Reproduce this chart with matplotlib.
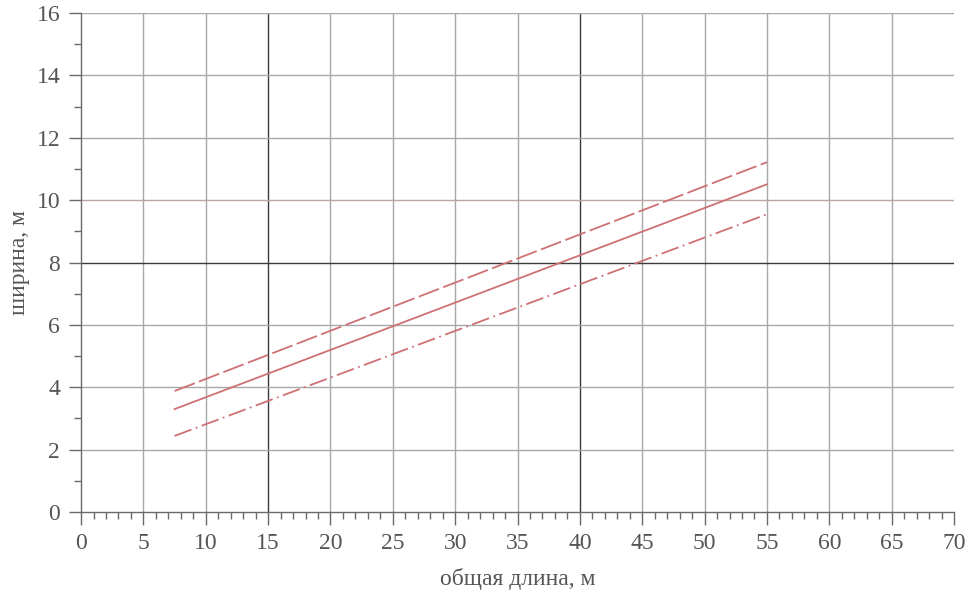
import matplotlib.pyplot as plt
from matplotlib.ticker import MultipleLocator

# Data
length = [7.5, 55]
width_mid = [3.30, 10.51]
width_upper = [3.88, 11.22]
width_lower = [2.44, 9.55]

x_ticks = list(range(0, 71, 5))
y_ticks = list(range(0, 17, 2))
dark_x = [15, 40]
dark_y = [8]

plt.rcParams["font.family"] = ["Liberation Serif", "DejaVu Serif"]
text_color = "#555555"
line_color = "#cf7075"

fig = plt.figure(figsize=(9.67, 5.97), dpi=100)
ax = fig.add_axes([0.0838, 0.1424, 0.9028, 0.8356])

# grid lines (some darker)
for x in x_ticks[1:-1]:
    c = "#3a3a3a" if x in dark_x else "#a8a8a8"
    ax.axvline(x, color=c, lw=1.0, zorder=1)
for y in y_ticks[1:]:
    c = "#3a3a3a" if y in dark_y else "#a8a8a8"
    if y == 10:
        c = "#c0a4a4"
    ax.axhline(y, color=c, lw=1.0, zorder=1)

ax.plot(length, width_upper, color=line_color, lw=1.3, ls=(0, (12, 2.5)), zorder=3)
ax.plot(length, width_mid, color=line_color, lw=1.3, ls="-", zorder=3)
ax.plot(length, width_lower, color=line_color, lw=1.3, ls=(0, (10, 2.5, 1, 2.5)), zorder=3)

ax.set_xlim(0, 70)
ax.set_ylim(0, 16)
ax.set_xticks(x_ticks)
ax.set_yticks(y_ticks)
ax.xaxis.set_minor_locator(MultipleLocator(1))
ax.yaxis.set_minor_locator(MultipleLocator(1))

for s in ["top", "right"]:
    ax.spines[s].set_visible(False)
for s in ["left", "bottom"]:
    ax.spines[s].set_color("#6a6a6a")
    ax.spines[s].set_linewidth(1.0)

ax.tick_params(axis="both", which="major", length=9, width=1, color="#6a6a6a",
               labelsize=17, labelcolor=text_color, pad=6)
ax.tick_params(axis="both", which="minor", length=5, width=1, color="#6a6a6a")

ax.set_xlabel("общая длина, м", fontsize=17, color=text_color, labelpad=10)
ax.set_ylabel("ширина, м", fontsize=17, color=text_color, labelpad=5)

fig.savefig("out.png", dpi=100)
